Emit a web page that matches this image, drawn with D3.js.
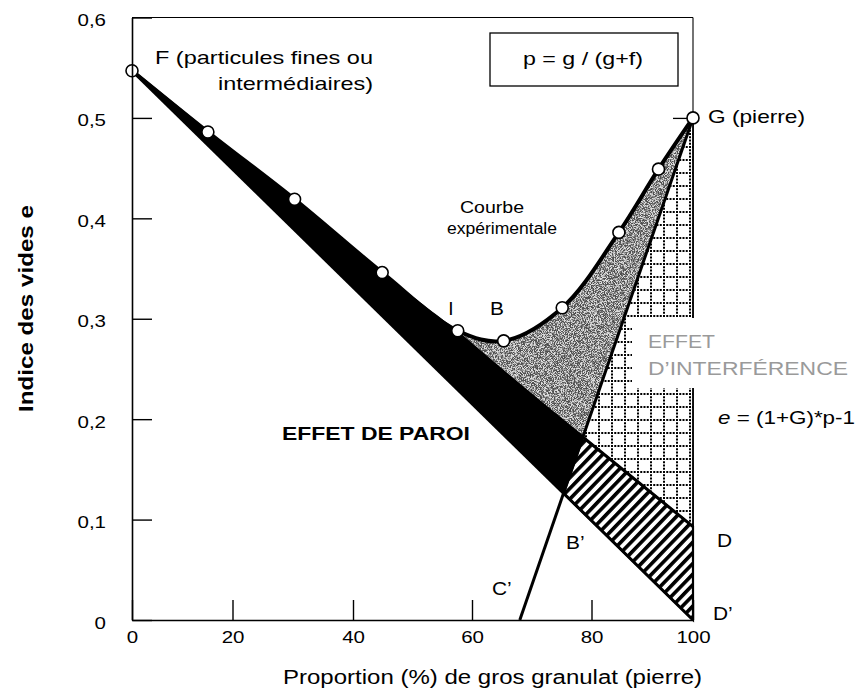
<!DOCTYPE html>
<html>
<head>
<meta charset="utf-8">
<script src="https://cdn.jsdelivr.net/npm/d3@7/dist/d3.min.js"></script>
<style>
  body { margin: 0; background: #fff; }
  svg { display: block; }
  text { font-family: "Liberation Sans", Arial, Helvetica, sans-serif; fill: #000; }
</style>
</head>
<body>
<svg id="chart" width="863" height="694"></svg>
<script>
// Experimental curve: void index e against the proportion of coarse aggregate p (%)
const pctStone  = [0, 15.1, 30.3, 44.9, 57.6, 65.3, 75.1, 85.4, 93.2, 100];
const voidIndex = [0.547, 0.486, 0.419, 0.346, 0.288, 0.278, 0.311, 0.386, 0.449, 0.5];
const idxI = 4;                       // point I on the curve

// Axis ticks
const xTicks = [0, 20, 40, 60, 80, 100];
const yTicks = [0, 0.1, 0.2, 0.3, 0.4, 0.5, 0.6];

// Construction points [p %, e]
const ptF  = [0, 0.547];
const ptG  = [100, 0.5];
const ptD  = [100, 0.093];
const ptDp = [100, 0];
const ptCp = [68.0, 0];
const ptBp = [75.33, 0.126];
const ptT  = [78.6, 0.182];

const svg = d3.select("#chart");

// Horizontal axis is drawn with its ticks at their printed positions
const x = d3.scaleLinear().domain(xTicks).range([132, 232.5, 353, 472, 591.5, 693]);
const y = d3.scaleLinear().domain([0, 0.6]).range([620, 17.5]);

const curvePts = pctStone.map((p, i) => [p, voidIndex[i]]);

// ---------- patterns and filters ----------
const defs = svg.append("defs");

const grid = defs.append("pattern")
  .attr("id", "grid").attr("patternUnits", "userSpaceOnUse")
  .attr("x", 598).attr("y", 406).attr("width", 13).attr("height", 13);
grid.append("rect").attr("width", 13).attr("height", 13).attr("fill", "#fff");
grid.append("line").attr("x1", 1).attr("x2", 1).attr("y1", 0).attr("y2", 13)
  .attr("stroke", "#000").attr("stroke-width", 2).attr("stroke-dasharray", "2 1.25");
grid.append("line").attr("x1", 0).attr("x2", 13).attr("y1", 1).attr("y2", 1)
  .attr("stroke", "#000").attr("stroke-width", 2).attr("stroke-dasharray", "2 1.25");

const hatch = defs.append("pattern")
  .attr("id", "hatch").attr("patternUnits", "userSpaceOnUse")
  .attr("width", 20).attr("height", 7.4)
  .attr("patternTransform", "rotate(-46)");
hatch.append("rect").attr("width", 20).attr("height", 7.4).attr("fill", "#fff");
hatch.append("rect").attr("width", 20).attr("height", 3.6).attr("fill", "#000");

const grain = defs.append("filter").attr("id", "grain")
  .attr("x", "-5%").attr("y", "-5%").attr("width", "110%").attr("height", "110%");
grain.append("feTurbulence").attr("type", "fractalNoise")
  .attr("baseFrequency", 1.3).attr("numOctaves", 1).attr("seed", 5).attr("result", "noise");
grain.append("feColorMatrix").attr("in", "noise").attr("type", "matrix")
  .attr("values", "0 0 0 0 0.08  0 0 0 0 0.08  0 0 0 0 0.08  5 0 0 0 -1.95")
  .attr("result", "specks");
grain.append("feComposite").attr("in", "specks").attr("in2", "SourceAlpha").attr("operator", "in");

// ---------- frame (top and right) ----------
svg.append("line")
  .attr("x1", x(0)).attr("x2", x(100)).attr("y1", y(0.6)).attr("y2", y(0.6))
  .attr("stroke", "#000").attr("stroke-width", 1.1);
svg.append("line")
  .attr("x1", x(100)).attr("x2", x(100)).attr("y1", y(0.6)).attr("y2", y(0))
  .attr("stroke", "#000").attr("stroke-width", 1.1);

const rightAxis = svg.append("g").attr("transform", `translate(${x(100)},0)`)
  .call(d3.axisRight(y).tickValues([0.5]).tickSize(-20).tickSizeOuter(0).tickFormat(""));
rightAxis.select(".domain").remove();
rightAxis.selectAll("line").attr("stroke-width", 1.3);

// ---------- regions ----------
const poly = d3.line().x(d => x(d[0])).y(d => y(d[1]));
const smooth = d3.line().x(d => x(d[0])).y(d => y(d[1])).curve(d3.curveCatmullRom.alpha(0.5));
const Lto = d => `L${x(d[0])},${y(d[1])}`;

// interference zone (grid)
svg.append("path").attr("d", poly([ptG, ptD, ptT]) + "Z").attr("fill", "url(#grid)");
svg.append("path").attr("d", poly([ptG, ptD]))
  .attr("stroke", "#000").attr("stroke-width", 1.8).attr("fill", "none");

// loosening band (stripes)
svg.append("path").attr("d", poly([ptT, ptD, ptDp, ptBp]) + "Z")
  .attr("fill", "url(#hatch)").attr("stroke", "#000").attr("stroke-width", 2.2)
  .attr("stroke-linejoin", "miter");

// grey zone between the curve and the construction lines
const greyPath = smooth(curvePts.slice(idxI)) + Lto(ptT) + "Z";
svg.append("path").attr("d", greyPath).attr("fill", "#dedede");
svg.append("path").attr("d", greyPath).attr("fill", "#000").attr("filter", "url(#grain)");

// wall effect (black wedge)
svg.append("path")
  .attr("d", smooth(curvePts.slice(0, idxI + 1)) + Lto(ptT) + Lto(ptBp) + "Z")
  .attr("fill", "#000");

// construction lines
[[ptF, ptDp], [ptF, ptD], [ptCp, ptG]].forEach(seg => {
  svg.append("path").attr("d", poly(seg))
    .attr("fill", "none").attr("stroke", "#000").attr("stroke-width", 3);
});

// experimental curve
svg.append("path").attr("d", smooth(curvePts))
  .attr("fill", "none").attr("stroke", "#000").attr("stroke-width", 4)
  .attr("stroke-linecap", "round");

svg.append("g").selectAll("circle").data(curvePts).join("circle")
  .attr("cx", d => x(d[0])).attr("cy", d => y(d[1])).attr("r", 6)
  .attr("fill", "#fff").attr("stroke", "#000").attr("stroke-width", 1.6);

// ---------- axes ----------
const commaFmt = d => d === 0 ? "0" : d3.format(".1f")(d).replace(".", ",");

function widen(sel, f) {
  sel.each(function () {
    const w = this.getComputedTextLength();
    d3.select(this).attr("textLength", w * f).attr("lengthAdjust", "spacingAndGlyphs");
  });
}

const yAxis = svg.append("g").attr("transform", `translate(${x(0)},0)`)
  .call(d3.axisLeft(y).tickValues(yTicks).tickSize(-20).tickSizeOuter(0)
    .tickPadding(26).tickFormat(commaFmt));
yAxis.select(".domain").attr("stroke-width", 1.6);
yAxis.selectAll(".tick line").attr("stroke-width", 1.4);
yAxis.selectAll("text").attr("font-size", 16).attr("dy", "0.5em")
  .attr("font-family", "Liberation Sans, Arial, sans-serif");
widen(yAxis.selectAll("text"), 1.28);

const xAxis = svg.append("g").attr("transform", `translate(0,${y(0)})`)
  .call(d3.axisBottom(x).tickValues(xTicks).tickSize(-20).tickSizeOuter(0)
    .tickPadding(12).tickFormat(d3.format("d")));
xAxis.select(".domain").attr("stroke-width", 1.6);
xAxis.selectAll(".tick line").attr("stroke-width", 1.4);
xAxis.selectAll("text").attr("font-size", 16)
  .attr("font-family", "Liberation Sans, Arial, sans-serif");
widen(xAxis.selectAll("text"), 1.28);

// ---------- labels ----------
function label(str, px, py, opt = {}) {
  const t = svg.append("text")
    .attr("x", px).attr("y", py)
    .attr("font-size", opt.size || 19)
    .attr("text-anchor", opt.anchor || "start")
    .attr("font-weight", opt.weight || "normal")
    .style("fill", opt.fill || "#000")
    .text(str);
  if (opt.width) t.attr("textLength", opt.width).attr("lengthAdjust", "spacingAndGlyphs");
  else if (opt.factor) widen(t, opt.factor);
  return t;
}

// axis titles
label("Proportion (%) de gros granulat (pierre)", 283, 684, { size: 20, width: 419 });
svg.append("text")
  .attr("transform", "translate(33,308.5) rotate(-90)")
  .attr("text-anchor", "middle").attr("font-size", 20).attr("font-weight", "bold")
  .attr("textLength", 207).attr("lengthAdjust", "spacingAndGlyphs")
  .text("Indice des vides e");

// end members
label("F (particules fines ou", 155, 64, { width: 218 });
label("intermédiaires)", 218, 90, { width: 155 });
label("G (pierre)", 708, 123, { width: 97 });

// definition box
svg.append("rect").attr("x", 490).attr("y", 33).attr("width", 188).attr("height", 53)
  .attr("fill", "#fff").attr("stroke", "#000").attr("stroke-width", 1.3);
label("p = g / (g+f)", 523, 65, { width: 120 });

// curve annotations
label("Courbe", 460, 213, { size: 16, width: 64 });
label("expérimentale", 447, 234, { size: 16, width: 110 });
label("I", 451, 315, { anchor: "middle" });
label("B", 497, 315, { anchor: "middle", factor: 1.1 });

label("EFFET DE PAROI", 282, 440, { size: 19, weight: "bold", width: 188 });

// interference zone label over a cleared band
svg.append("rect").attr("x", 632).attr("y", 318).attr("width", 231).attr("height", 70)
  .attr("fill", "#fff");
label("EFFET", 648, 348, { size: 19, width: 67, fill: "#9a9a9a" });
label("D\u2019INTERFÉRENCE", 648, 375, { size: 19, width: 200, fill: "#9a9a9a" });

const eq = svg.append("text").attr("x", 718).attr("y", 424).attr("font-size", 19)
  .attr("textLength", 137).attr("lengthAdjust", "spacingAndGlyphs");
eq.append("tspan").attr("font-style", "italic").text("e");
eq.append("tspan").text(" = (1+G)*p-1");

// construction point names
label("B\u2019", 566, 549, { factor: 1.1 });
label("D", 717, 547, { factor: 1.1 });
label("D\u2019", 713, 620, { factor: 1.1 });
label("C\u2019", 492, 595, { factor: 1.1 });
</script>
</body>
</html>
